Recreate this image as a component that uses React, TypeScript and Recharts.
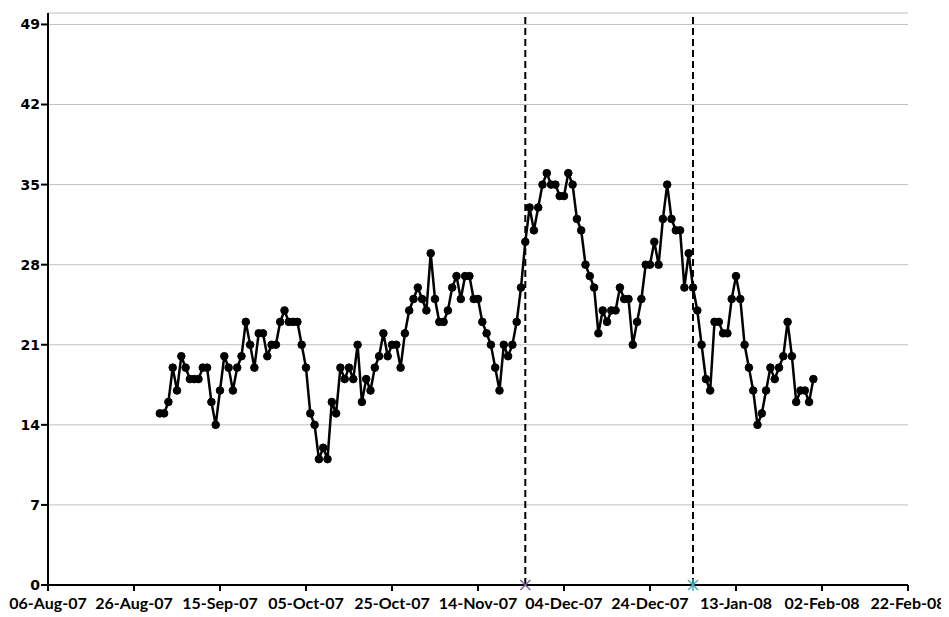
import React from 'react'
import { ComposedChart, Line, XAxis, YAxis, CartesianGrid, ReferenceLine, ReferenceDot } from 'recharts'

// days counted from 06-Aug-07 (axis origin)
const startDay = 26 // 01-Sep-07
const values = [
  15, 15, 16, 19, 17, 20, 19, 18, 18, 18, 19, 19, 16, 14, 17, 20, 19, 17, 19, 20, 23, 21, 19, 22, 22, 20,
  21, 21, 23, 24, 23, 23, 23, 21, 19, 15, 14, 11, 12, 11, 16, 15, 19, 18, 19, 18, 21, 16, 18, 17, 19, 20, 22, 20,
  21, 21, 19, 22, 24, 25, 26, 25, 24, 29, 25, 23, 23, 24, 26, 27, 25, 27, 27, 25, 25, 23, 22, 21, 19, 17, 21, 20, 21, 23, 26, 30,
  33, 31, 33, 35, 36, 35, 35, 34, 34, 36, 35, 32, 31, 28, 27, 26, 22, 24, 23, 24, 24, 26, 25, 25, 21, 23,
  25, 28, 28, 30, 28, 32, 35, 32, 31, 31, 26, 29, 26, 24, 21, 18, 17, 23, 23, 22, 22, 25, 27, 25,
  21, 19, 17, 14, 15, 17, 19, 18, 19, 20, 23, 20, 16, 17, 17, 16, 18,
]

const tickDays = [0, 20, 40, 60, 80, 100, 120, 140, 160, 180, 200]
const tickLabels = [
  '06-Aug-07', '26-Aug-07', '15-Sep-07', '05-Oct-07', '25-Oct-07', '14-Nov-07',
  '04-Dec-07', '24-Dec-07', '13-Jan-08', '02-Feb-08', '22-Feb-08',
]
const yTicks = [0, 7, 14, 21, 28, 35, 42, 49]

// event markers: 25-Nov-07 and 03-Jan-08
const eventDays = [111, 150]
const eventColors = ['#8064a2', '#4bacc6']

const data = values.map((v, i) => ({ day: startDay + i, value: v }))

const CrossMark = (props: any) => {
  const { cx, cy } = props
  const s = 5
  return (
    <g stroke={eventColors[0]} strokeWidth={1.5}>
      <line x1={cx - s} y1={cy - s} x2={cx + s} y2={cy + s} />
      <line x1={cx - s} y1={cy + s} x2={cx + s} y2={cy - s} />
    </g>
  )
}

const StarMark = (props: any) => {
  const { cx, cy } = props
  const s = 5
  return (
    <g stroke={eventColors[1]} strokeWidth={1.5}>
      <line x1={cx - s} y1={cy - s} x2={cx + s} y2={cy + s} />
      <line x1={cx - s} y1={cy + s} x2={cx + s} y2={cy - s} />
      <line x1={cx} y1={cy - s - 1} x2={cx} y2={cy + s + 1} />
    </g>
  )
}

export default function App() {
  return (
    <div style={{ width: 941, height: 609 }}>
      <ComposedChart
        width={941}
        height={609}
        data={data}
        margin={{ top: 5, right: 41, bottom: 0, left: 0 }}
      >
        <CartesianGrid vertical={false} stroke="#c0c0c0" strokeWidth={1} />
        <XAxis
          type="number"
          dataKey="day"
          domain={[0, 200]}
          ticks={tickDays}
          tickFormatter={(d: number) => tickLabels[tickDays.indexOf(d)]}
          interval={0}
          height={32}
          axisLine={{ stroke: '#000', strokeWidth: 2 }}
          tickLine={{ stroke: '#000', strokeWidth: 2 }}
          tickSize={6}
          tickMargin={7}
          tick={{ fill: '#000', fontFamily: 'Lato', fontWeight: 700, fontSize: 16 }}
        />
        <YAxis
          type="number"
          domain={[0, 50]}
          ticks={yTicks}
          interval={0}
          width={40}
          axisLine={{ stroke: '#000', strokeWidth: 2 }}
          tickLine={{ stroke: '#000', strokeWidth: 2 }}
          tickSize={7}
          tickMargin={1}
          tick={{ fill: '#000', fontFamily: 'DejaVu Sans', fontWeight: 700, fontSize: 14 }}
        />
        {eventDays.map(d => (
          <ReferenceLine key={d} x={d} stroke="#000" strokeWidth={2} strokeDasharray="7 4" />
        ))}
        <Line
          type="linear"
          dataKey="value"
          stroke="#000"
          strokeWidth={2.5}
          dot={{ r: 3.8, fill: '#000', stroke: '#000', strokeWidth: 1 }}
          activeDot={false}
          isAnimationActive={false}
        />
        <ReferenceDot x={eventDays[0]} y={0} r={5} shape={CrossMark} />
        <ReferenceDot x={eventDays[1]} y={0} r={5} shape={StarMark} />
      </ComposedChart>
    </div>
  )
}
